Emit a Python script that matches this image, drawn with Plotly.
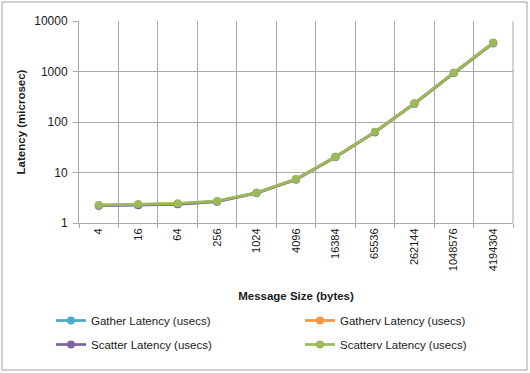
import plotly.graph_objects as go

categories = ["4", "16", "64", "256", "1024", "4096", "16384", "65536",
              "262144", "1048576", "4194304"]
gather = [2.2, 2.25, 2.35, 2.65, 3.9, 7.2, 20.0, 62, 228, 920, 3600]
gatherv = [2.25, 2.3, 2.38, 2.66, 3.95, 7.3, 20.3, 63, 232, 935, 3680]
scatter = [2.2, 2.24, 2.36, 2.68, 3.95, 7.35, 20.4, 63.5, 233, 940, 3700]
scatterv = [2.27, 2.38, 2.45, 2.73, 3.98, 7.4, 20.5, 64, 234, 947, 3717]
y_ticks = [1, 10, 100, 1000, 10000]
y_ticktext = ["1", "10", "100", "1000", "10000"]

series = [
    ("Gather Latency (usecs)", gather, "#4bacc6", "legend"),
    ("Gatherv Latency (usecs)", gatherv, "#f79646", "legend2"),
    ("Scatter Latency (usecs)", scatter, "#8064a2", "legend"),
    ("Scatterv Latency (usecs)", scatterv, "#9bbb59", "legend2"),
]

FONT = "Liberation Sans, Arial, sans-serif"
fig = go.Figure()
for name, vals, color, leg in series:
    fig.add_trace(go.Scatter(
        x=categories, y=vals, name=name, mode="lines+markers",
        line=dict(color=color, width=2.75),
        marker=dict(color=color, size=8),
        legend=leg, legendgroup=name,
    ))

grid = "#a9a9a9"
legend_common = dict(
    orientation="v", xref="paper", yref="paper",
    xanchor="left", yanchor="top", bgcolor="rgba(0,0,0,0)",
    font=dict(family=FONT, size=11.5, color="#1a1a1a"),
    tracegroupgap=5, itemwidth=30,
)
fig.update_layout(
    width=530, height=373,
    margin=dict(l=79, r=17, t=21, b=150),
    paper_bgcolor="white", plot_bgcolor="white",
    font=dict(family=FONT, size=11, color="#1a1a1a"),
    showlegend=True,
    legend=dict(x=(51 - 79) / 434, y=(223 - 306) / 202, **legend_common),
    legend2=dict(x=(300 - 79) / 434, y=(223 - 306) / 202, **legend_common),
    xaxis=dict(
        type="category", tickson="boundaries", ticks="outside", ticklen=4,
        tickcolor=grid, showline=True, linecolor=grid, linewidth=1,
        showgrid=True, gridcolor=grid, gridwidth=1,
        tickangle=-90, tickfont=dict(size=11),
        title=dict(text="<b>Message Size (bytes)</b>", standoff=21,
                   font=dict(size=11.5)),
        range=[-0.5, 10.5],
    ),
    yaxis=dict(
        type="log", range=[0, 4], tickvals=y_ticks, ticktext=y_ticktext,
        ticks="outside", ticklen=5, tickcolor=grid, ticklabelstandoff=3,
        showline=True, linecolor=grid, linewidth=1,
        showgrid=True, gridcolor=grid, gridwidth=1,
        tickfont=dict(size=12),
        title=dict(text="<b>Latency (microsec)</b>", standoff=6,
                   font=dict(size=11.5)),
    ),
    shapes=[dict(
        type="rect", xref="paper", yref="paper",
        x0=(2 - 79) / 434, x1=(527 - 79) / 434,
        y0=(223 - 370) / 202, y1=(223 - 2) / 202,
        line=dict(color="#a0a0a0", width=1), layer="below",
    ), dict(
        type="line", xref="paper", yref="paper",
        x0=1, x1=1, y0=0, y1=1,
        line=dict(color=grid, width=1), layer="below",
    )],
)

fig.write_html("out.html", config={"displayModeBar": False},
               post_script="document.body.style.margin='0';")
